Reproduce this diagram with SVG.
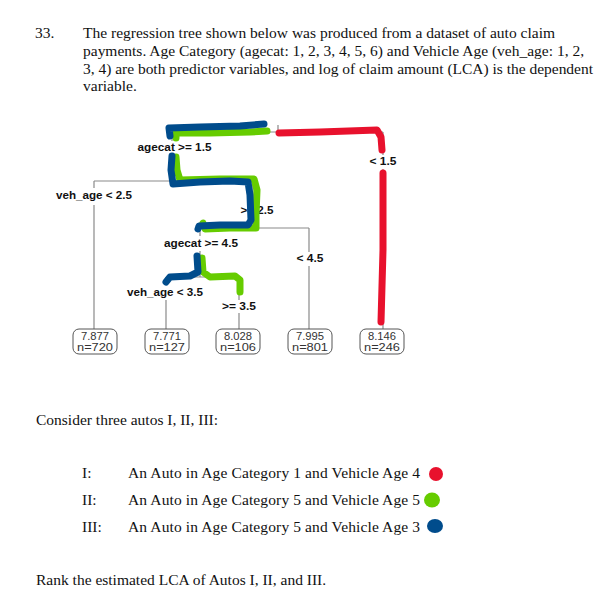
<svg xmlns="http://www.w3.org/2000/svg" width="607" height="606" viewBox="0 0 607 606">
<style>
.q{font-family:"Liberation Serif","Times New Roman",serif;font-size:15.5px;fill:#111}
.lb{font-family:"Liberation Sans",Arial,sans-serif;font-weight:bold;font-size:10.8px;fill:#111;text-anchor:middle}
.lf{font-family:"Liberation Sans",Arial,sans-serif;font-size:10.5px;fill:#333;text-anchor:middle}
.tl{stroke:#8a8a8a;stroke-width:1.2;fill:none}
.bx{fill:#fff;stroke:#555;stroke-width:1}
.pen{fill:none;stroke-width:7;stroke-linecap:round;stroke-linejoin:round}
.r{stroke:#e8112d}.g{stroke:#66cc00}.b{stroke:#004c8c}
</style>
<rect width="607" height="606" fill="#fff"/>
<g id="question">
<text class="q" x="35" y="38">33.</text>
<text class="q" x="83" y="38" textLength="472" lengthAdjust="spacing">The regression tree shown below was produced from a dataset of auto claim</text>
<text class="q" x="83" y="56" textLength="501" lengthAdjust="spacing">payments. Age Category (agecat: 1, 2, 3, 4, 5, 6) and Vehicle Age (veh_age: 1, 2,</text>
<text class="q" x="83" y="73.5" textLength="510" lengthAdjust="spacing">3, 4) are both predictor variables, and log of claim amount (LCA) is the dependent</text>
<text class="q" x="83" y="91">variable.</text>
</g>
<g id="connectors">
<path class="tl" d="M278,125V132M172,132H383M172,132V141M172,155V181M94,181H253M94,181V188M94,205V329M253,181V203M256,218V228M200,228H309M309,228V252M309,266V329M200,228V236M200,251V277M166,277H239M166,277V285M166,300V329M239,277V300M239,313V329M383,132V155M383,169V329"/>
</g>
<g id="labels">
<text class="lb" x="174.5" y="151" textLength="74" lengthAdjust="spacingAndGlyphs">agecat &gt;= 1.5</text>
<text class="lb" x="383" y="165" textLength="27" lengthAdjust="spacingAndGlyphs">&lt; 1.5</text>
<text class="lb" x="94" y="199" textLength="76" lengthAdjust="spacingAndGlyphs">veh_age &lt; 2.5</text>
<text class="lb" x="257" y="214" textLength="33" lengthAdjust="spacingAndGlyphs">&gt;= 2.5</text>
<text class="lb" x="201" y="247" textLength="74" lengthAdjust="spacingAndGlyphs">agecat &gt;= 4.5</text>
<text class="lb" x="310" y="262" textLength="27" lengthAdjust="spacingAndGlyphs">&lt; 4.5</text>
<text class="lb" x="165" y="296" textLength="76" lengthAdjust="spacingAndGlyphs">veh_age &lt; 3.5</text>
<text class="lb" x="239" y="310" textLength="34" lengthAdjust="spacingAndGlyphs">&gt;= 3.5</text>
</g>
<g id="leaf1"><rect class="bx" x="73" y="329" width="44" height="25" rx="6"/><text class="lf" x="95" y="339.5" textLength="28" lengthAdjust="spacingAndGlyphs">7.877</text><text class="lf" x="95" y="350.5" textLength="36" lengthAdjust="spacingAndGlyphs">n=720</text></g>
<g id="leaf2"><rect class="bx" x="145" y="329" width="44" height="25" rx="6"/><text class="lf" x="167" y="339.5" textLength="28" lengthAdjust="spacingAndGlyphs">7.771</text><text class="lf" x="167" y="350.5" textLength="36" lengthAdjust="spacingAndGlyphs">n=127</text></g>
<g id="leaf3"><rect class="bx" x="216" y="329" width="44" height="25" rx="6"/><text class="lf" x="238" y="339.5" textLength="28" lengthAdjust="spacingAndGlyphs">8.028</text><text class="lf" x="238" y="350.5" textLength="36" lengthAdjust="spacingAndGlyphs">n=106</text></g>
<g id="leaf4"><rect class="bx" x="288" y="329" width="44" height="25" rx="6"/><text class="lf" x="310" y="339.5" textLength="28" lengthAdjust="spacingAndGlyphs">7.995</text><text class="lf" x="310" y="350.5" textLength="36" lengthAdjust="spacingAndGlyphs">n=801</text></g>
<g id="leaf5"><rect class="bx" x="360" y="329" width="44" height="25" rx="6"/><text class="lf" x="382" y="339.5" textLength="28" lengthAdjust="spacingAndGlyphs">8.146</text><text class="lf" x="382" y="350.5" textLength="36" lengthAdjust="spacingAndGlyphs">n=246</text></g>
<g id="highlights">
<path class="pen r" d="M279,133L320,132L377,130L381,137L382,150M383,173L383,250L381,322"/>
<path class="pen g" d="M176,138L176,133L210,133L250,132L267,131M176,157L177,170L180,180L220,179L254,179L257,190L256,215L256,228L230,228L205,229L203,223M202,258L203,272L210,277L235,276L240,280L240,292"/>
<path class="pen b" d="M170,136L169,128L200,127L240,126L264,124M172,156L171,170L173,184L200,182L230,181L248,182L250,195L251,220L248,225L220,225L199,226L198,229M197,256L198,272L190,276L170,277L166,282"/>
</g>
<g id="choices">
<text class="q" x="36" y="425">Consider three autos I, II, III:</text>
<text class="q" x="82" y="478">I:</text>
<text class="q" x="128" y="478" textLength="292" lengthAdjust="spacing">An Auto in Age Category 1 and Vehicle Age 4</text>
<ellipse cx="436" cy="474" rx="7" ry="7" fill="#e8112d"/>
<text class="q" x="82" y="505">II:</text>
<text class="q" x="128" y="505" textLength="292" lengthAdjust="spacing">An Auto in Age Category 5 and Vehicle Age 5</text>
<ellipse cx="432" cy="500" rx="8" ry="7.5" fill="#66cc00"/>
<text class="q" x="82" y="532">III:</text>
<text class="q" x="128" y="532" textLength="292" lengthAdjust="spacing">An Auto in Age Category 5 and Vehicle Age 3</text>
<ellipse cx="435" cy="526" rx="8" ry="7" fill="#004c8c"/>
<text class="q" x="36" y="585">Rank the estimated LCA of Autos I, II, and III.</text>
</g>
</svg>
